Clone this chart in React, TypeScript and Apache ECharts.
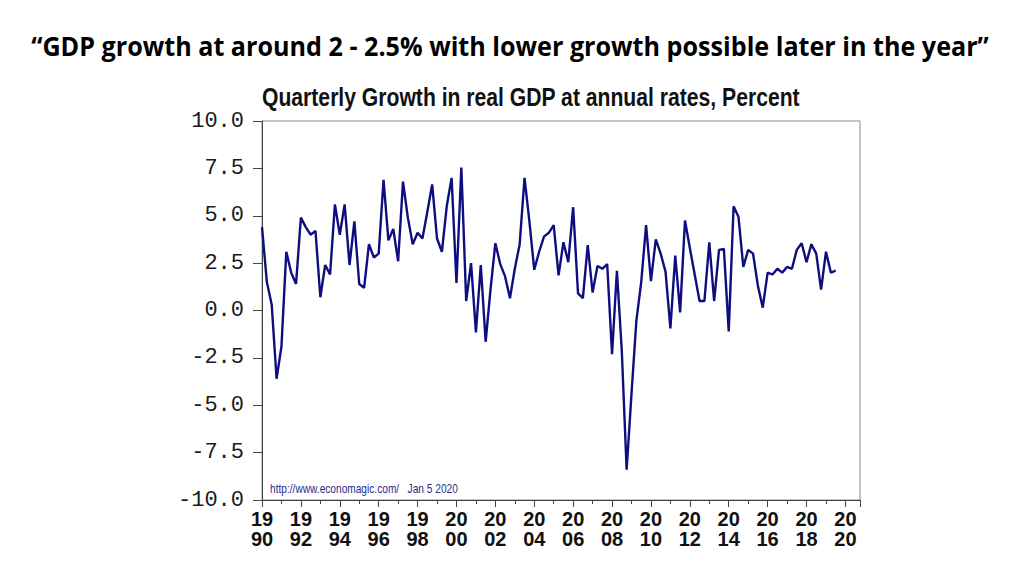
import React, { useEffect, useRef } from "react";
import * as echarts from "echarts";

const slideTitle = "\u201cGDP growth at around 2 - 2.5% with lower growth possible later in the year\u201d";
const chartTitle = "Quarterly Growth in real GDP at annual rates, Percent";
const sourceNote = "http://www.economagic.com/   Jan 5 2020";
const firstYear = 1990;
const lastAxisYear = 2020.75;

// Quarterly growth, 1990Q1 .. 2019Q3
const gdpGrowth = [
  4.4, 1.5, 0.3, -3.6,
  -1.9, 3.1, 2.0, 1.4,
  4.9, 4.4, 4.0, 4.2,
  0.7, 2.4, 1.9, 5.6,
  4.0, 5.6, 2.4, 4.7,
  1.4, 1.2, 3.5, 2.8,
  3.0, 6.9, 3.7, 4.3,
  2.6, 6.8, 4.9, 3.5,
  4.1, 3.8, 5.2, 6.65,
  3.8, 3.1, 5.5, 7.0,
  1.45, 7.55, 0.5, 2.5,
  -1.15, 2.4, -1.65, 1.1,
  3.55, 2.45, 1.8, 0.65,
  2.2, 3.5, 7.0, 4.7,
  2.15, 3.1, 3.9, 4.1,
  4.5, 1.85, 3.6, 2.55,
  5.45, 0.9, 0.65, 3.45,
  0.95, 2.35, 2.2, 2.45,
  -2.3, 2.1, -2.1, -8.4,
  -4.4, -0.55, 1.5, 4.5,
  1.55, 3.75, 3.0, 2.05,
  -0.95, 2.9, -0.1, 4.75,
  3.3, 1.9, 0.5, 0.5,
  3.6, 0.5, 3.2, 3.25,
  -1.1, 5.5, 4.95, 2.3,
  3.2, 3.0, 1.3, 0.15,
  2.0, 1.9, 2.2, 2.0,
  2.3, 2.2, 3.2, 3.55,
  2.55, 3.5, 3.0, 1.1,
  3.1, 2.0, 2.1,
];

function fitScale(text: string, font: string, target: number): number {
  const ctx = document.createElement("canvas").getContext("2d");
  if (!ctx) return 1;
  ctx.font = font;
  const w = ctx.measureText(text).width;
  return w > 0 ? target / w : 1;
}

export default function App() {
  const ref = useRef<HTMLDivElement>(null);

  useEffect(() => {
    if (!ref.current) return;
    const chart = echarts.init(ref.current, undefined, { renderer: "svg" });

    const titleFont = 'bold 27px "Open Sans"';
    const chartTitleFont = 'bold 25px "Liberation Sans"';
    const noteFont = '12px "Liberation Sans"';

    const option: echarts.EChartsOption = {
      animation: false,
      backgroundColor: "#ffffff",
      grid: {
        left: 262,
        right: 164,
        top: 121,
        bottom: 76,
        show: true,
        borderColor: "#8c8c8c",
        borderWidth: 1,
        backgroundColor: "#ffffff",
      },
      xAxis: {
        type: "value",
        min: firstYear,
        max: lastAxisYear,
        interval: 2,
        axisLine: { show: true, onZero: false, lineStyle: { color: "#444", width: 1 } },
        axisTick: { show: true, length: 7, lineStyle: { color: "#444" } },
        minorTick: { show: true, splitNumber: 2, length: 4, lineStyle: { color: "#444" } },
        splitLine: { show: false },
        minorSplitLine: { show: false },
        axisLabel: {
          showMaxLabel: false,
          formatter: (v: number) => {
            if (Math.round(v) !== v) return "";
            const s = String(v);
            return s.slice(0, 2) + "\n" + s.slice(2);
          },
          fontFamily: '"Liberation Sans"',
          fontWeight: "bold",
          fontSize: 20,
          lineHeight: 20,
          color: "#111",
          margin: 9,
        },
      },
      yAxis: {
        type: "value",
        min: -10,
        max: 10,
        interval: 2.5,
        axisLine: { show: true, lineStyle: { color: "#444", width: 1 } },
        axisTick: { show: true, length: 9, lineStyle: { color: "#444" } },
        splitLine: { show: false },
        axisLabel: {
          formatter: (v: number) => v.toFixed(1),
          fontFamily: '"Liberation Mono"',
          fontSize: 22,
          color: "#1a1a1a",
          margin: 18,
        },
      },
      series: [
        {
          type: "line",
          data: gdpGrowth.map((v, i) => [firstYear + i / 4, v]),
          showSymbol: false,
          silent: true,
          lineStyle: { color: "#0e0e80", width: 2.4 },
        },
      ],
      graphic: [
        {
          type: "text",
          x: 510,
          y: 46,
          scaleX: fitScale(slideTitle, titleFont, 958),
          style: {
            text: slideTitle,
            font: titleFont,
            fill: "#000",
            textAlign: "center",
            textVerticalAlign: "middle",
            align: "center",
            verticalAlign: "middle",
          } as any,
        },
        {
          type: "text",
          x: 262,
          y: 97,
          scaleX: fitScale(chartTitle, chartTitleFont, 538),
          style: {
            text: chartTitle,
            font: chartTitleFont,
            fill: "#111",
            textAlign: "left",
            textVerticalAlign: "middle",
            align: "left",
            verticalAlign: "middle",
          } as any,
        },
        {
          type: "text",
          x: 270,
          y: 489,
          scaleX: fitScale(sourceNote, noteFont, 188),
          style: {
            text: sourceNote,
            font: noteFont,
            fill: "#2b2b8c",
            textAlign: "left",
            textVerticalAlign: "middle",
            align: "left",
            verticalAlign: "middle",
          } as any,
        },
      ],
    };

    chart.setOption(option);
    return () => chart.dispose();
  }, []);

  return (
    <div
      ref={ref}
      style={{ position: "fixed", left: 0, top: 0, width: 1024, height: 576, background: "#fff" }}
    />
  );
}
